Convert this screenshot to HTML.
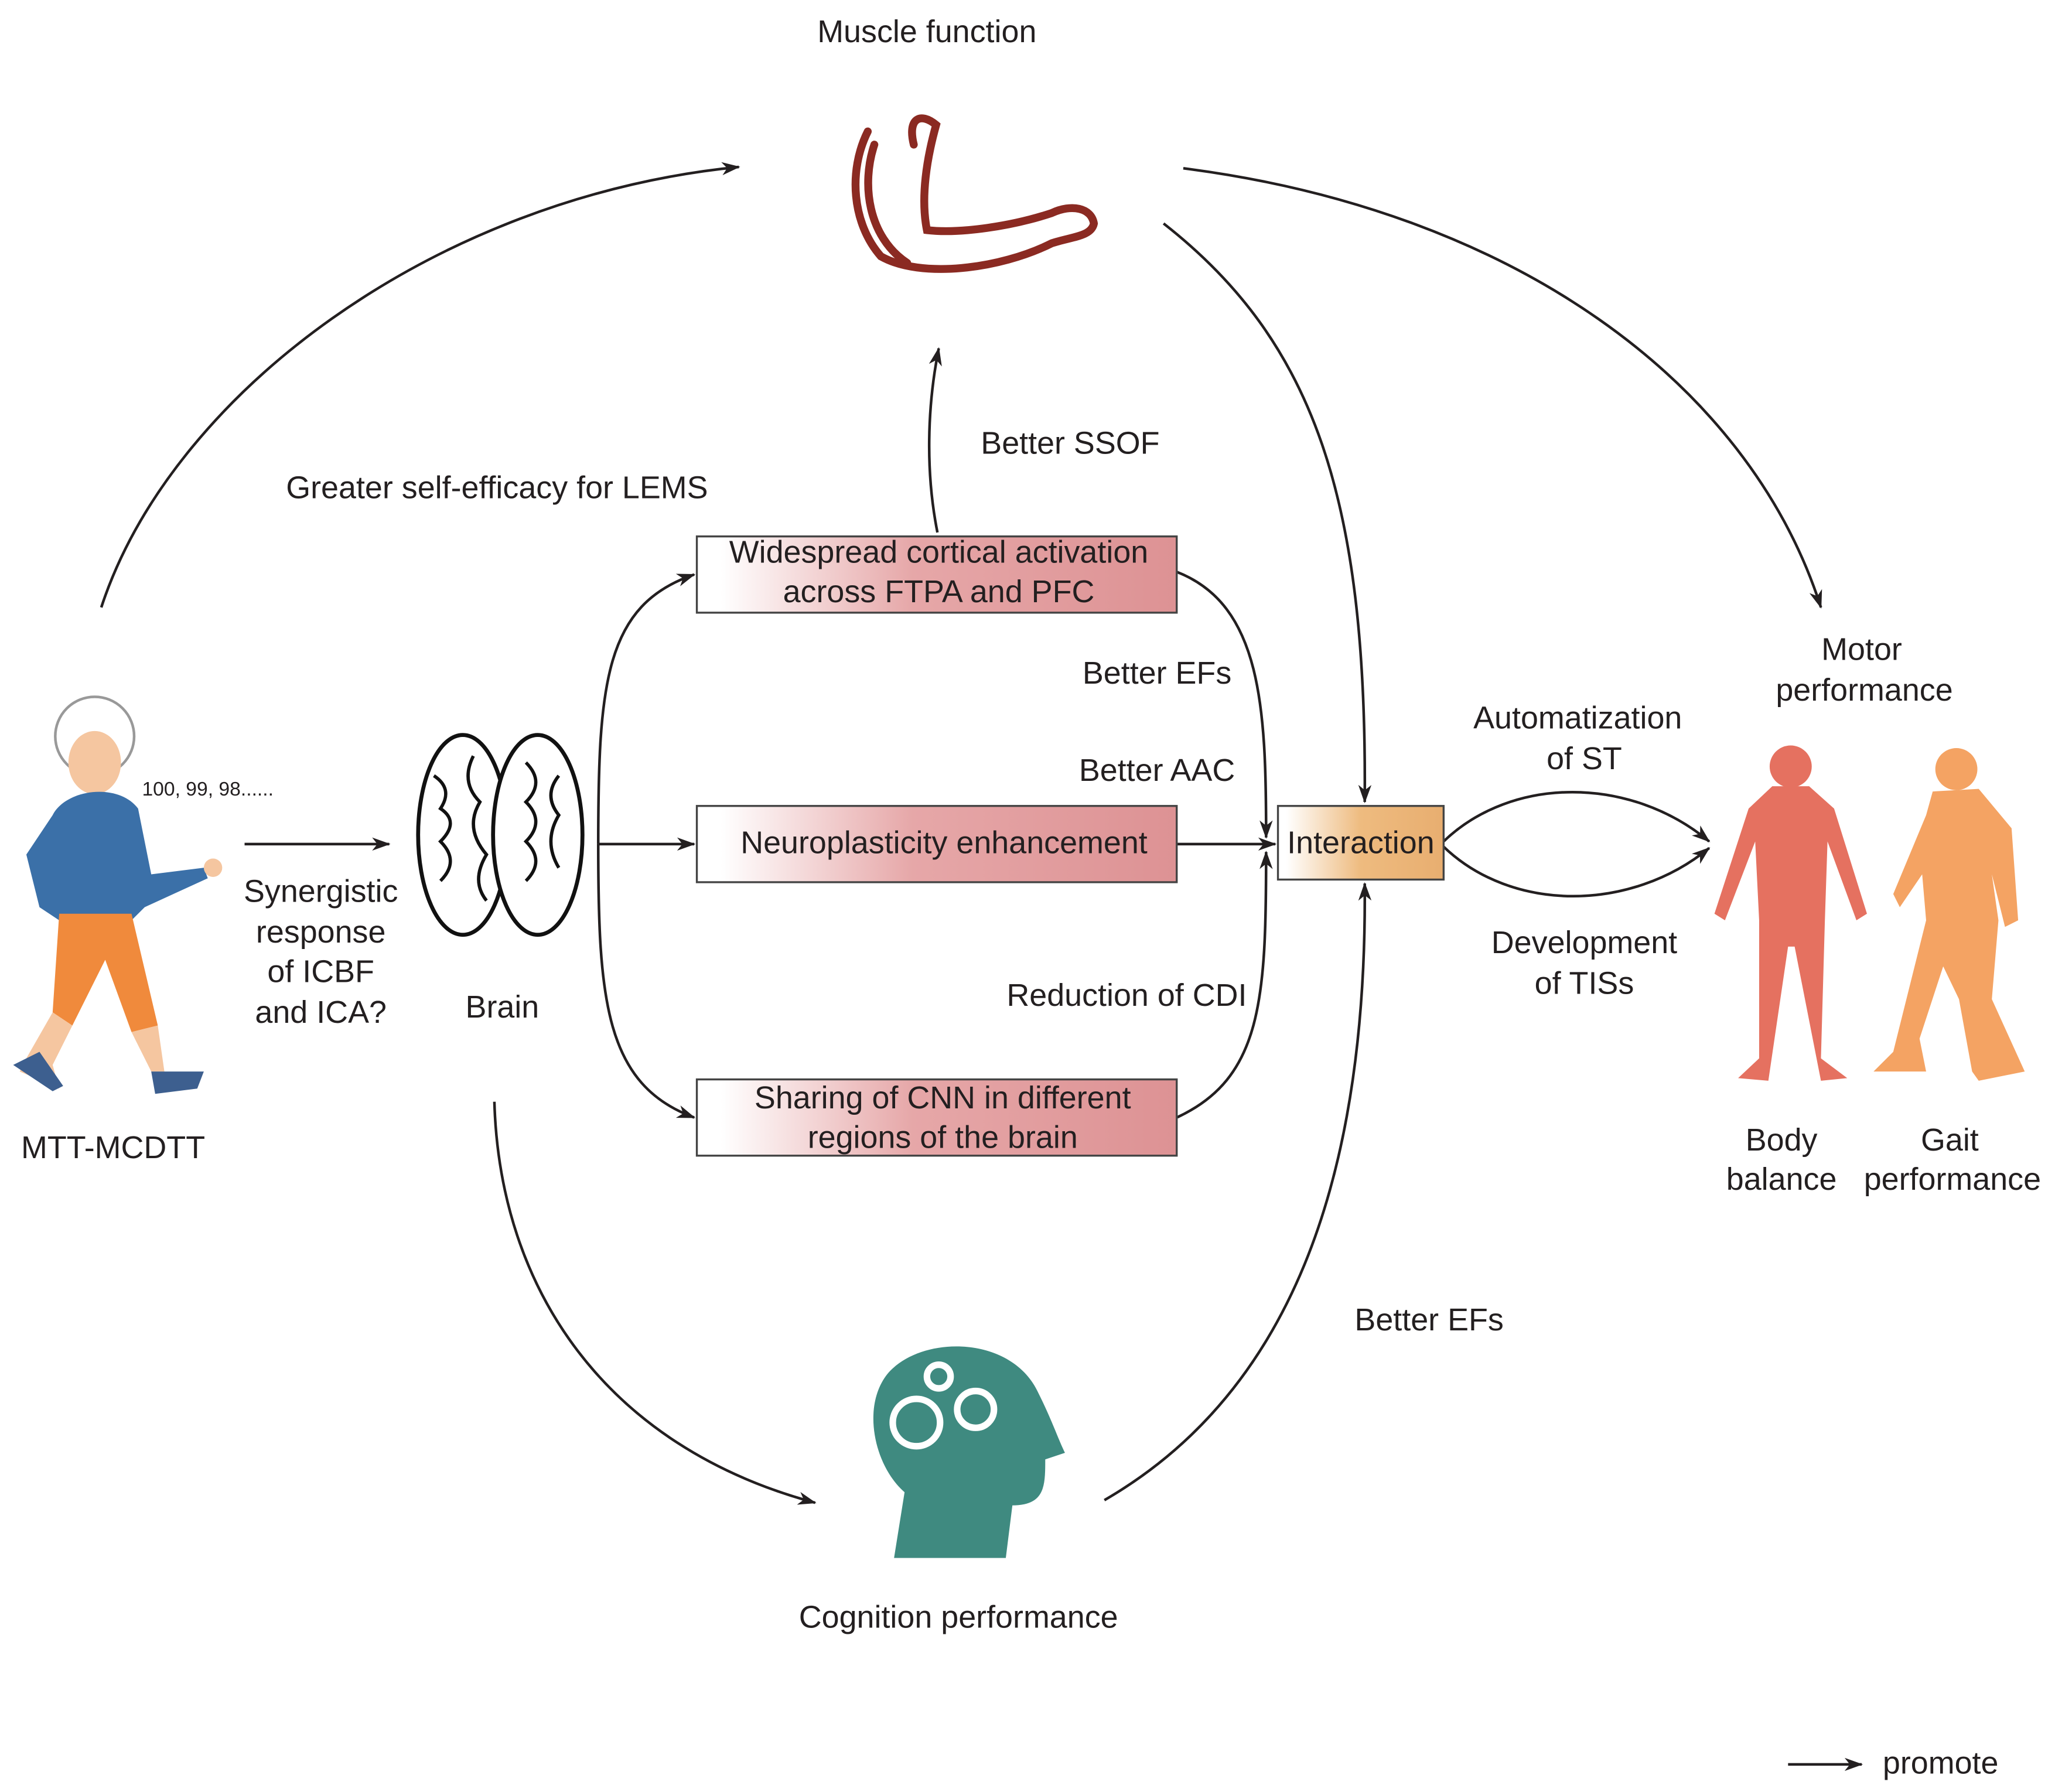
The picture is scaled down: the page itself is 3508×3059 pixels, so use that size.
<!DOCTYPE html>
<html><head><meta charset="utf-8"><style>
html,body{margin:0;padding:0;background:#fff;}
svg{display:block;}
text{font-family:"Liberation Sans",Arial,sans-serif;fill:#231f20;}
</style></head><body>
<svg width="3508" height="3059" viewBox="0 0 1563 1363" xmlns="http://www.w3.org/2000/svg">
<defs>
<marker id="a" markerWidth="14" markerHeight="10" refX="13" refY="5" orient="auto" markerUnits="userSpaceOnUse">
<path d="M0,0 L14,5 L0,10 L4,5 Z" fill="#231f20"/></marker>
<linearGradient id="gr" x1="0" x2="1"><stop offset="0.05" stop-color="#fff"/><stop offset="0.45" stop-color="#e6a7a8"/><stop offset="1" stop-color="#dd9294"/></linearGradient>
<linearGradient id="go" x1="0" x2="1"><stop offset="0.05" stop-color="#fff"/><stop offset="0.5" stop-color="#eebb7f"/><stop offset="1" stop-color="#e8ae70"/></linearGradient>
</defs>
<g fill="none" stroke="#231f20" stroke-width="2">
<path d="M77,462 C130,300 330,150 562,127" marker-end="url(#a)"/>
<path d="M900,128 C1150,160 1330,290 1385,462" marker-end="url(#a)"/>
<path d="M885,170 C1000,260 1040,380 1038,610" marker-end="url(#a)"/>
<path d="M713,405 C704,360 705,310 714,265" marker-end="url(#a)"/>
<path d="M455,642 L528,642" marker-end="url(#a)"/>
<path d="M186,642 L296,642" marker-end="url(#a)"/>
<path d="M455,642 C455,520 460,460 528,437" marker-end="url(#a)"/>
<path d="M455,642 C455,760 460,825 528,850" marker-end="url(#a)"/>
<path d="M895,642 L970,642" marker-end="url(#a)"/>
<path d="M895,435 C960,460 963,540 963,637" marker-end="url(#a)"/>
<path d="M895,850 C960,820 963,760 963,648" marker-end="url(#a)"/>
<path d="M1098,640 C1150,590 1240,590 1300,640" marker-end="url(#a)"/>
<path d="M1098,644 C1150,694 1240,694 1300,645" marker-end="url(#a)"/>
<path d="M840,1141 C980,1060 1040,900 1038,672" marker-end="url(#a)"/>
<path d="M376,838 C380,980 460,1100 620,1143" marker-end="url(#a)"/>
<path d="M1360,1342 L1416,1342" marker-end="url(#a)"/>
</g>
<rect x="530" y="408" width="365" height="58" fill="url(#gr)" stroke="#444" stroke-width="1.5"/>
<rect x="530" y="613" width="365" height="58" fill="url(#gr)" stroke="#444" stroke-width="1.5"/>
<rect x="530" y="821" width="365" height="58" fill="url(#gr)" stroke="#444" stroke-width="1.5"/>
<rect x="972" y="613" width="126" height="56" fill="url(#go)" stroke="#444" stroke-width="1.5"/>
<g font-size="24" text-anchor="middle">
<text x="714" y="428">Widespread cortical activation</text>
<text x="714" y="458">across FTPA and PFC</text>
<text x="718" y="649">Neuroplasticity enhancement</text>
<text x="717" y="843">Sharing of CNN in different</text>
<text x="717" y="873">regions of the brain</text>
<text x="1035" y="649">Interaction</text>
<text x="705" y="32">Muscle function</text>
<text x="378" y="379">Greater self-efficacy for LEMS</text>
<text x="814" y="345">Better SSOF</text>
<text x="880" y="520">Better EFs</text>
<text x="880" y="594">Better AAC</text>
<text x="857" y="765">Reduction of CDI</text>
<text x="1200" y="554">Automatization</text>
<text x="1205" y="585">of ST</text>
<text x="1205" y="725">Development</text>
<text x="1205" y="756">of TISs</text>
<text x="1416" y="502">Motor</text>
<text x="1418" y="533">performance</text>
<text x="1355" y="875">Body</text>
<text x="1355" y="905">balance</text>
<text x="1483" y="875">Gait</text>
<text x="1485" y="905">performance</text>
<text x="244" y="686">Synergistic</text>
<text x="244" y="717">response</text>
<text x="244" y="747">of ICBF</text>
<text x="244" y="778">and ICA?</text>
<text x="382" y="774">Brain</text>
<text x="86" y="881">MTT-MCDTT</text>
<text x="1087" y="1012">Better EFs</text>
<text x="729" y="1238">Cognition performance</text>
<text x="1476" y="1349">promote</text>
</g>
<text x="108" y="605" font-size="15">100, 99, 98......</text>
<g fill="none" stroke="#8b2a22" stroke-width="6" stroke-linecap="round">
<path d="M660,100 C645,130 648,170 670,195 C700,212 760,205 800,185 C815,180 830,180 832,170 C830,158 815,155 800,162 C770,172 730,178 705,175 C700,150 705,120 712,95 C700,85 690,90 695,110"/>
<path d="M665,110 C655,140 660,180 690,200"/>
</g>
<g fill="#fff" stroke="#111" stroke-width="3">
<ellipse cx="352" cy="635" rx="34" ry="76"/>
<ellipse cx="409" cy="635" rx="34" ry="76"/>
<path d="M330,590 q15,10 5,25 q15,10 0,25 q15,15 0,30 M360,575 q-10,20 5,35 q-12,20 5,40 q-12,20 0,35 M400,580 q15,15 0,30 q15,15 0,30 q15,15 0,30 M425,590 q-12,15 0,30 q-12,20 0,40" fill="none" stroke-width="2.5"/>
</g>
<circle cx="72" cy="560" r="30" fill="#fff" stroke="#999" stroke-width="2"/>
<ellipse cx="72" cy="580" rx="20" ry="24" fill="#f5c6a0"/>
<path d="M40,620 C50,600 90,595 105,615 L115,665 L155,660 L158,668 L110,690 L100,700 L45,700 L30,690 L20,650 Z" fill="#3b70a8"/>
<path d="M45,695 L100,695 L120,780 L100,785 L80,730 L55,780 L40,770 Z" fill="#f08a3c"/>
<path d="M40,770 L20,805 L15,815 L45,828 L40,810 L55,780 Z" fill="#f5c6a0"/>
<path d="M100,785 L120,780 L125,815 L115,815 Z" fill="#f5c6a0"/>
<path d="M10,810 L30,800 L48,826 L40,830 Z" fill="#3d5f8f"/>
<path d="M115,815 L155,815 L150,828 L118,832 Z" fill="#3d5f8f"/>
<circle cx="162" cy="660" r="7" fill="#f5c6a0"/>
<g fill="#e57160">
<circle cx="1362" cy="583" r="16"/>
<path d="M1348,598 L1376,598 L1395,615 L1420,695 L1412,700 L1390,640 L1388,700 L1385,805 L1405,820 L1385,822 L1365,720 L1360,720 L1345,822 L1322,820 L1338,805 L1338,700 L1335,640 L1312,700 L1304,695 L1330,615 Z"/>
</g>
<g fill="#f4a363">
<circle cx="1488" cy="585" r="16"/>
<path d="M1470,602 L1505,600 L1530,630 L1535,700 L1525,705 L1515,665 L1520,700 L1515,760 L1540,815 L1505,822 L1500,815 L1490,760 L1478,735 L1460,790 L1465,815 L1425,815 L1440,800 L1455,740 L1465,700 L1462,665 L1445,690 L1440,680 L1465,620 Z"/>
</g>
<path d="M680,1185 L688,1135 C665,1115 655,1070 675,1045 C700,1015 770,1015 790,1060 C800,1080 805,1095 810,1105 L795,1110 C795,1130 795,1145 770,1145 L765,1185 Z" fill="#3f8a80"/>
<g fill="none" stroke="#fff" stroke-width="5">
<circle cx="697" cy="1082" r="18"/><circle cx="742" cy="1072" r="14"/><circle cx="714" cy="1047" r="9"/>
</g>
</svg>
</body></html>
